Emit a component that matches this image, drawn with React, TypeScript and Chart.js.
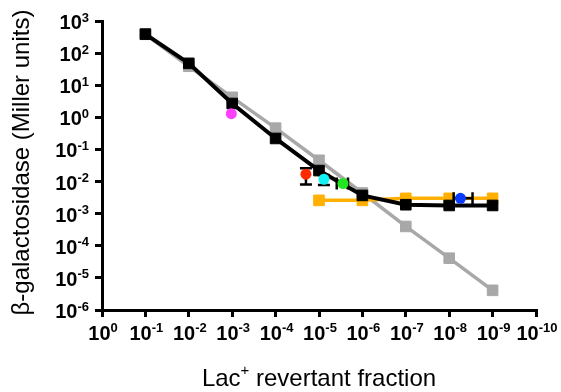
import React, { useEffect, useRef } from "react";
import { Chart, registerables } from "chart.js";

Chart.register(...registerables);

// ---- Data ----
const decadeX = [1e-1, 1e-2, 1e-3, 1e-4, 1e-5, 1e-6, 1e-7, 1e-8, 1e-9];
const blackY = [390, 48, 2.7, 0.22, 0.022, 0.0037, 0.0019, 0.0018, 0.0018];
const grayY = [385, 39, 4.2, 0.46, 0.046, 0.0044, 0.0004, 0.000041, 0.0000041];
const orangeX = [1e-5, 1e-6, 1e-7, 1e-8, 1e-9];
const orangeY = [0.0026, 0.0026, 0.003, 0.003, 0.003];

const pointNames = ["magenta", "red", "cyan", "green", "blue"];
const pointX = [1.05e-3, 2e-5, 7.7e-6, 2.8e-6, 5.5e-9];
const pointY = [1.3, 0.017, 0.0118, 0.0087, 0.003];
const pointColors = ["#FF40FF", "#FF2A00", "#12F2F2", "#22E622", "#0A3CFF"];
// error bars: [low, high] or null
const yErrLow = [null, 0.0081, 0.0078, null, null];
const yErrHigh = [null, 0.026, 0.016, null, null];
const xErrLow = [null, null, null, 2.15e-6, 2.9e-9];
const xErrHigh = [null, null, null, 3.9e-6, 7.9e-9];

const xTickExps = [0, -1, -2, -3, -4, -5, -6, -7, -8, -9, -10];
const yTickExps = [3, 2, 1, 0, -1, -2, -3, -4, -5, -6];

const yTitle = "β-galactosidase (Miller units)";
const xTitleMain = "Lac";
const xTitleSup = "+";
const xTitleRest = " revertant fraction";

const FONT = "'Liberation Sans', Arial, Helvetica, sans-serif";

export default function App() {
  const ref = useRef<HTMLCanvasElement | null>(null);

  useEffect(() => {
    const canvas = ref.current;
    if (!canvas) return;

    const circleDatasets = pointNames.map((n, i) => ({
      label: n,
      data: [{ x: pointX[i], y: pointY[i] }],
      showLine: false,
      pointStyle: "circle",
      pointRadius: 5.5,
      pointBorderWidth: 0,
      pointBackgroundColor: pointColors[i],
      pointBorderColor: pointColors[i],
      order: 0,
    }));

    const errorPlugin = {
      id: "errbars",
      beforeDatasetDraw(chart: any, args: any) {
        const idx = args.index;
        if (idx >= pointNames.length) return;
        const xs = chart.scales.x;
        const ys = chart.scales.y;
        const ctx = chart.ctx;
        const px = xs.getPixelForValue(pointX[idx]);
        const py = ys.getPixelForValue(pointY[idx]);
        ctx.save();
        ctx.strokeStyle = "#000";
        ctx.lineWidth = 2.5;
        const cap = 6;
        if (yErrLow[idx] != null) {
          const y1 = ys.getPixelForValue(yErrLow[idx]);
          const y2 = ys.getPixelForValue(yErrHigh[idx]);
          ctx.beginPath();
          ctx.moveTo(px, y1);
          ctx.lineTo(px, y2);
          ctx.moveTo(px - cap, y1);
          ctx.lineTo(px + cap, y1);
          ctx.moveTo(px - cap, y2);
          ctx.lineTo(px + cap, y2);
          ctx.stroke();
        }
        if (xErrLow[idx] != null) {
          const x1 = xs.getPixelForValue(xErrLow[idx]);
          const x2 = xs.getPixelForValue(xErrHigh[idx]);
          ctx.beginPath();
          ctx.moveTo(x1, py);
          ctx.lineTo(x2, py);
          ctx.moveTo(x1, py - cap);
          ctx.lineTo(x1, py + cap);
          ctx.moveTo(x2, py - cap);
          ctx.lineTo(x2, py + cap);
          ctx.stroke();
        }
        ctx.restore();
      },
    };

    const labelPlugin = {
      id: "labels",
      afterDraw(chart: any) {
        const ctx = chart.ctx;
        const xs = chart.scales.x;
        const ys = chart.scales.y;
        const bigFont = `bold 20px ${FONT}`;
        const supFont = `bold 13px ${FONT}`;
        ctx.save();
        ctx.fillStyle = "#000";
        ctx.textBaseline = "alphabetic";
        ctx.textAlign = "left";
        // y tick labels
        yTickExps.forEach((e) => {
          const ty = ys.getPixelForValue(Math.pow(10, e));
          const es = String(e);
          ctx.font = bigFont;
          const w1 = ctx.measureText("10").width;
          ctx.font = supFont;
          const w2 = ctx.measureText(es).width;
          const right = 89;
          const x0 = right - w2 - w1;
          ctx.font = bigFont;
          ctx.fillText("10", x0, ty + 8);
          ctx.font = supFont;
          ctx.fillText(es, x0 + w1, ty + 0.5);
        });
        // x tick labels
        xTickExps.forEach((e) => {
          const tx = xs.getPixelForValue(Math.pow(10, e));
          const es = String(e);
          ctx.font = bigFont;
          const w1 = ctx.measureText("10").width;
          ctx.font = supFont;
          const w2 = ctx.measureText(es).width;
          const x0 = tx - (w1 + w2) / 2 + 1;
          ctx.font = bigFont;
          ctx.fillText("10", x0, 340);
          ctx.font = supFont;
          ctx.fillText(es, x0 + w1, 332);
        });
        // x title
        const tFont = `24px ${FONT}`;
        const tSup = `15px ${FONT}`;
        ctx.font = tFont;
        const a = ctx.measureText(xTitleMain).width;
        const c = ctx.measureText(xTitleRest).width;
        ctx.font = tSup;
        const b = ctx.measureText(xTitleSup).width;
        const cx = (chart.chartArea.left + chart.chartArea.right) / 2;
        const sx = cx - (a + b + c) / 2;
        ctx.font = tFont;
        ctx.fillText(xTitleMain, sx, 386);
        ctx.font = tSup;
        ctx.fillText(xTitleSup, sx + a, 375);
        ctx.font = tFont;
        ctx.fillText(xTitleRest, sx + a + b, 386);
        // y title
        ctx.translate(29, (chart.chartArea.top + chart.chartArea.bottom) / 2 - 3);
        ctx.rotate(-Math.PI / 2);
        ctx.textAlign = "center";
        ctx.font = tFont;
        ctx.fillText(yTitle, 0, 0);
        ctx.restore();
      },
    };

    const decadesX = xTickExps.map((e) => ({ value: Math.pow(10, e) }));
    const decadesY = yTickExps.map((e) => ({ value: Math.pow(10, e) }));

    const chart = new Chart(canvas, {
      type: "scatter",
      data: {
        datasets: [
          ...circleDatasets,
          {
            label: "black",
            data: decadeX.map((x, i) => ({ x, y: blackY[i] })),
            showLine: true,
            borderColor: "#000",
            borderWidth: 4,
            pointStyle: "rect",
            pointRadius: 7.5,
            pointBorderWidth: 1,
            pointBackgroundColor: "#000",
            pointBorderColor: "#000",
            order: 1,
          },
          {
            label: "orange",
            data: orangeX.map((x, i) => ({ x, y: orangeY[i] })),
            showLine: true,
            borderColor: "#FFB000",
            borderWidth: 3.5,
            pointStyle: "rect",
            pointRadius: 7.5,
            pointBorderWidth: 1,
            pointBackgroundColor: "#FFB000",
            pointBorderColor: "#FFB000",
            order: 2,
          },
          {
            label: "gray",
            data: decadeX.map((x, i) => ({ x, y: grayY[i] })),
            showLine: true,
            borderColor: "#A8A8A8",
            borderWidth: 3.5,
            pointStyle: "rect",
            pointRadius: 7.5,
            pointBorderWidth: 1,
            pointBackgroundColor: "#A8A8A8",
            pointBorderColor: "#A8A8A8",
            order: 3,
          },
        ],
      } as any,
      options: {
        animation: false,
        responsive: false,
        devicePixelRatio: 1,
        layout: { padding: { top: 21, right: 25, left: 0, bottom: 0 } },
        plugins: {
          legend: { display: false },
          tooltip: { enabled: false },
        },
        scales: {
          x: {
            type: "logarithmic",
            reverse: true,
            min: 1e-10,
            max: 1,
            afterBuildTicks: (s: any) => {
              s.ticks = decadesX.map((t) => ({ ...t }));
            },
            afterFit: (s: any) => {
              s.height = 82;
            },
            ticks: { display: false },
            grid: {
              display: true,
              drawOnChartArea: false,
              drawTicks: true,
              tickLength: 7,
              tickWidth: 3,
              color: "#000",
              lineWidth: 3,
            },
            border: { display: true, color: "#000", width: 3 },
          },
          y: {
            type: "logarithmic",
            min: 1e-6,
            max: 1e3,
            afterBuildTicks: (s: any) => {
              s.ticks = decadesY.map((t) => ({ ...t }));
            },
            afterFit: (s: any) => {
              s.width = 102;
            },
            ticks: { display: false },
            grid: {
              display: true,
              drawOnChartArea: false,
              drawTicks: true,
              tickLength: 7,
              tickWidth: 3,
              color: "#000",
              lineWidth: 3,
            },
            border: { display: true, color: "#000", width: 3 },
          },
        },
      } as any,
      plugins: [errorPlugin, labelPlugin],
    });

    return () => chart.destroy();
  }, []);

  return (
    <div style={{ position: "fixed", left: 0, top: 0, width: 561, height: 392, background: "#fff" }}>
      <canvas ref={ref} width={561} height={392} style={{ width: 561, height: 392 }} />
    </div>
  );
}
